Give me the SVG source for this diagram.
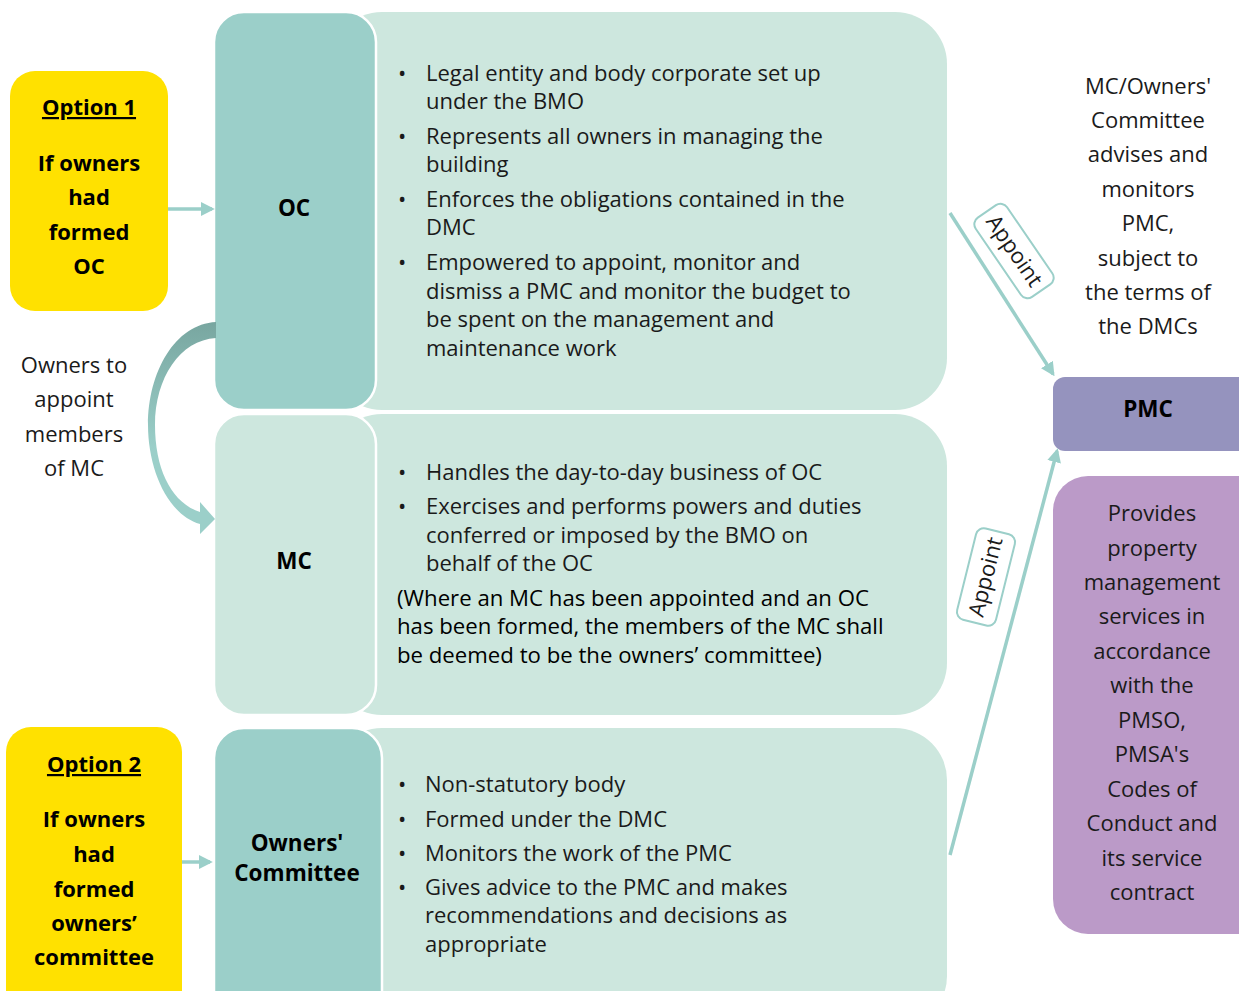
<svg xmlns="http://www.w3.org/2000/svg" width="1239" height="991" viewBox="0 0 1239 991">
<defs>
<style>
text{font-family:"Open Sans","Noto Sans","DejaVu Sans",sans-serif;fill:#1a1a1a}
.b{font-size:22px}
.w{font-size:22.2px;fill:#000}
.lbl{font-size:22.5px;font-weight:bold;fill:#000;text-anchor:middle}
.opt{font-size:22px;font-weight:bold;fill:#000;text-anchor:middle}
.side{font-size:22px;text-anchor:middle}
.light{fill:#CDE7DE}
.dark{fill:#9BCFC9;stroke:#fff;stroke-width:2.5}
.yel{fill:#FFE100}
.conn{stroke:#9BCFC9;stroke-width:3.5;fill:none}
.tag{fill:#fff;stroke:#9BCFC9;stroke-width:2}
</style>
<marker id="ah" viewBox="0 0 10 10" refX="8" refY="5" markerWidth="4" markerHeight="4" orient="auto" markerUnits="strokeWidth">
<path d="M0,0 L10,5 L0,10 Z" fill="#9BCFC9"/>
</marker>
<linearGradient id="cg" x1="0" y1="0" x2="0" y2="1">
<stop offset="0" stop-color="#78A6A0"/>
<stop offset="0.6" stop-color="#9BCFC9"/>
<stop offset="1" stop-color="#9BCFC9"/>
</linearGradient>
</defs>

<g id="oc-detail">
<rect class="light" x="330" y="12" width="617" height="398" rx="52"/>
<text class="b"><tspan x="398" y="81">•</tspan><tspan x="426" y="81">Legal entity and body corporate set up</tspan><tspan x="426" y="109">under the BMO</tspan></text>
<text class="b"><tspan x="398" y="144">•</tspan><tspan x="426" y="144">Represents all owners in managing the</tspan><tspan x="426" y="172">building</tspan></text>
<text class="b"><tspan x="398" y="207">•</tspan><tspan x="426" y="207">Enforces the obligations contained in the</tspan><tspan x="426" y="235">DMC</tspan></text>
<text class="b"><tspan x="398" y="270">•</tspan><tspan x="426" y="270">Empowered to appoint, monitor and</tspan><tspan x="426" y="299">dismiss a PMC and monitor the budget to</tspan><tspan x="426" y="327">be spent on the management and</tspan><tspan x="426" y="356">maintenance work</tspan></text>
</g>

<g id="oc">
<rect class="dark" x="214" y="12" width="162" height="398" rx="30"/>
<text class="lbl" x="294" y="216">OC</text>
</g>

<g id="mc-detail">
<rect class="light" x="330" y="414" width="617" height="301" rx="52"/>
<text class="b"><tspan x="398" y="480">•</tspan><tspan x="426" y="480">Handles the day-to-day business of OC</tspan></text>
<text class="b"><tspan x="398" y="514">•</tspan><tspan x="426" y="514">Exercises and performs powers and duties</tspan><tspan x="426" y="543">conferred or imposed by the BMO on</tspan><tspan x="426" y="571">behalf of the OC</tspan></text>
<text class="w"><tspan x="397" y="606">(Where an MC has been appointed and an OC</tspan><tspan x="397" y="634">has been formed, the members of the MC shall</tspan><tspan x="397" y="663">be deemed to be the owners’ committee)</tspan></text>
</g>

<g id="mc">
<rect x="214" y="414" width="162" height="301" rx="30" fill="#CDE7DE" stroke="#fff" stroke-width="2.5"/>
<text class="lbl" x="294" y="569">MC</text>
</g>

<g id="owc-detail">
<rect class="light" x="330" y="728" width="617" height="300" rx="52"/>
<text class="b"><tspan x="398" y="792">•</tspan><tspan x="425" y="792">Non-statutory body</tspan></text>
<text class="b"><tspan x="398" y="827">•</tspan><tspan x="425" y="827">Formed under the DMC</tspan></text>
<text class="b"><tspan x="398" y="861">•</tspan><tspan x="425" y="861">Monitors the work of the PMC</tspan></text>
<text class="b"><tspan x="398" y="895">•</tspan><tspan x="425" y="895">Gives advice to the PMC and makes</tspan><tspan x="425" y="923">recommendations and decisions as</tspan><tspan x="425" y="952">appropriate</tspan></text>
</g>

<g id="owc">
<rect class="dark" x="214" y="728" width="168" height="300" rx="30"/>
<text class="lbl" x="297" y="851">Owners'</text>
<text class="lbl" x="297" y="881">Committee</text>
</g>

<g id="option1">
<rect class="yel" x="10" y="71" width="158" height="240" rx="25"/>
<text class="opt" x="89" y="115" text-decoration="underline">Option 1</text>
<text class="opt"><tspan x="89" y="171">If owners</tspan><tspan x="89" y="205">had</tspan><tspan x="89" y="240">formed</tspan><tspan x="89" y="274">OC</tspan></text>
</g>

<g id="option2">
<rect class="yel" x="6" y="727" width="176" height="300" rx="25"/>
<text class="opt" x="94" y="772" text-decoration="underline">Option 2</text>
<text class="opt"><tspan x="94" y="827">If owners</tspan><tspan x="94" y="862">had</tspan><tspan x="94" y="897">formed</tspan><tspan x="94" y="931">owners’</tspan><tspan x="94" y="965">committee</tspan></text>
</g>

<g id="appoint-note">
<text class="side"><tspan x="74" y="373">Owners to</tspan><tspan x="74" y="407">appoint</tspan><tspan x="74" y="442">members</tspan><tspan x="74" y="476">of MC</tspan></text>
</g>

<g id="advise-note">
<text class="side"><tspan x="1148" y="94">MC/Owners'</tspan><tspan x="1148" y="128">Committee</tspan><tspan x="1148" y="162">advises and</tspan><tspan x="1148" y="197">monitors</tspan><tspan x="1148" y="231">PMC,</tspan><tspan x="1148" y="266">subject to</tspan><tspan x="1148" y="300">the terms of</tspan><tspan x="1148" y="334">the DMCs</tspan></text>
</g>

<g id="pmc">
<rect x="1053" y="377" width="200" height="74" rx="12" fill="#9593BE"/>
<text class="lbl" x="1148" y="417">PMC</text>
</g>

<g id="pmc-detail">
<rect x="1053" y="476" width="220" height="458" rx="35" fill="#BB9AC8"/>
<text class="side"><tspan x="1152" y="521">Provides</tspan><tspan x="1152" y="556">property</tspan><tspan x="1152" y="590">management</tspan><tspan x="1152" y="624">services in</tspan><tspan x="1152" y="659">accordance</tspan><tspan x="1152" y="693">with the</tspan><tspan x="1152" y="728">PMSO,</tspan><tspan x="1152" y="762">PMSA's</tspan><tspan x="1152" y="797">Codes of</tspan><tspan x="1152" y="831">Conduct and</tspan><tspan x="1152" y="866">its service</tspan><tspan x="1152" y="900">contract</tspan></text>
</g>

<g id="connectors">
<line class="conn" x1="168" y1="209" x2="212" y2="209" marker-end="url(#ah)"/>
<line class="conn" x1="182" y1="862" x2="210" y2="862" marker-end="url(#ah)"/>
<path d="M216,322 C175,324 148,372 148,425 C148,470 168,515 200,524 L200,534 L215,519 L200,502 L200,512 C172,503 155,470 155,425 C155,378 180,340 216,338 Z" fill="url(#cg)"/>
<line class="conn" x1="950" y1="213" x2="1053" y2="374" marker-end="url(#ah)"/>
<line class="conn" x1="950" y1="855" x2="1057" y2="451" marker-end="url(#ah)"/>
<g transform="translate(1014,251) rotate(55.6)">
<rect class="tag" x="-48" y="-19" width="96" height="38" rx="8"/>
<text x="0" y="7" font-size="22" text-anchor="middle">Appoint</text>
</g>
<g transform="translate(986,577) rotate(-76)">
<rect class="tag" x="-47" y="-20" width="94" height="40" rx="8"/>
<text x="0" y="7" font-size="22" text-anchor="middle">Appoint</text>
</g>
</g>
</svg>
